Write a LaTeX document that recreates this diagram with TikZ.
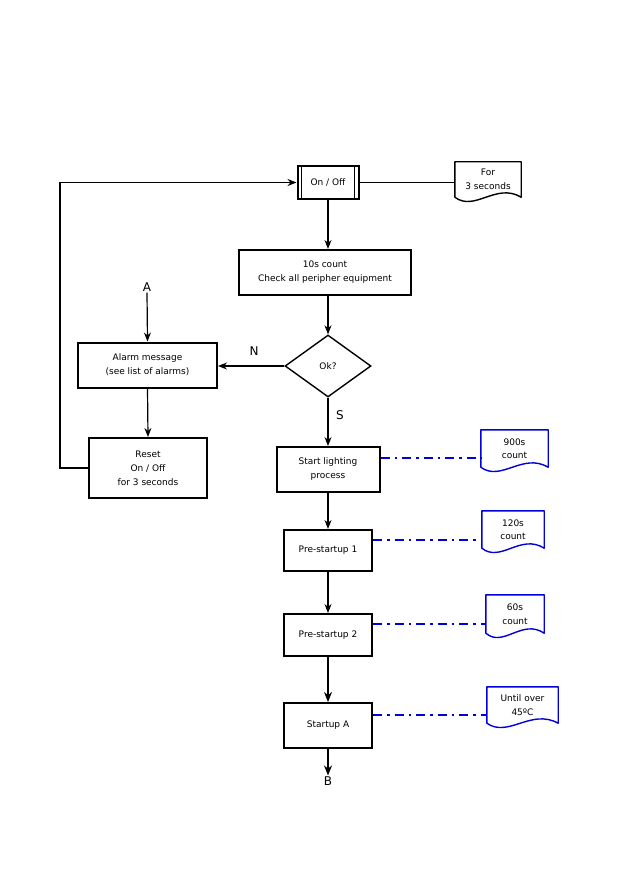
\documentclass[tikz,border=0pt]{standalone}
\usepackage{fontspec}
\setmainfont{DejaVu Sans}
\usetikzlibrary{arrows.meta,shapes.geometric,calc}
\newcommand\docshape[2]{%
  \draw[docline,#2] (#1.south west) -- (#1.north west) -- (#1.north east) -- (#1.south east)
    .. controls ($(#1.south west)!0.62!(#1.south east)+(0,-15)$) and ($(#1.south west)!0.3!(#1.south east)+(0,15)$) .. (#1.south west) -- cycle;}
\begin{document}
\begin{tikzpicture}[x=1pt,y=-1pt,
  box/.style={draw, line width=2pt, align=center, font=\fontsize{9}{14}\selectfont, inner sep=0pt},
  arr/.style={-{Stealth[length=9pt,width=7pt]}, line width=1.2pt},
  thickarr/.style={-{Stealth[length=10pt,width=8pt]}, line width=2pt},
  dd/.style={blue!85!black, line width=1.5pt, dash pattern=on 9pt off 5pt on 2.5pt off 5pt},
  docline/.style={line width=1.4pt, line join=round},
  doctext/.style={align=center, font=\fontsize{9}{13.5}\selectfont, inner sep=0pt},
  lbl/.style={font=\fontsize{12}{14}\selectfont, inner sep=1pt}
]
\useasboundingbox[fill=white] (0,0) rectangle (632,893);

% process boxes
\node[box, minimum width=61pt, minimum height=33pt] (onoff) at (328,182.5) {On / Off};
\node[box, minimum width=172pt, minimum height=45pt] (ten) at (325,272.5) {10s count\\Check all peripher equipment};
\node[draw, line width=1.4pt, diamond, minimum width=86pt, minimum height=62pt, inner sep=0pt,
      font=\fontsize{9}{10}\selectfont] (ok) at (328,366) {Ok?};
\node[box, minimum width=139pt, minimum height=45pt] (alarm) at (147.5,365) {Alarm message\\(see list of alarms)};
\node[box, minimum width=118pt, minimum height=60pt] (reset) at (148,468) {Reset\\On / Off\\for 3 seconds};
\node[box, minimum width=103pt, minimum height=45pt] (start) at (328,469.5) {Start lighting\\process};
\node[box, minimum width=88pt, minimum height=41pt] (pre1) at (328,550.5) {Pre-startup 1};
\node[box, minimum width=88pt, minimum height=42pt] (pre2) at (328,635) {Pre-startup 2};
\node[box, minimum width=88pt, minimum height=45pt] (sta) at (328,725.5) {Startup A};

% double lines of On/Off
\draw[line width=1.4pt] ($(onoff.north west)+(5,0)$) -- ($(onoff.south west)+(5,0)$);
\draw[line width=1.4pt] ($(onoff.north east)+(-5,0)$) -- ($(onoff.south east)+(-5,0)$);

% documents
\node[doctext, minimum width=66pt, minimum height=35pt] (dfor) at (488,179.5) {For\\3 seconds};
\docshape{dfor}{black}
\node[doctext, minimum width=67pt, minimum height=37pt] (d900) at (514.5,448.5) {900s\\count};
\docshape{d900}{blue!85!black}
\node[doctext, minimum width=62pt, minimum height=37pt] (d120) at (513,529.5) {120s\\count};
\docshape{d120}{blue!85!black}
\node[doctext, minimum width=58pt, minimum height=38pt] (d60) at (515,614) {60s\\count};
\docshape{d60}{blue!85!black}
\node[doctext, minimum width=71pt, minimum height=36pt] (dtemp) at (522.5,705) {Until over\\45ºC};
\docshape{dtemp}{blue!85!black}

% labels
\node[lbl] (la) at (147,287) {A};
\node[lbl] (lb) at (328,781) {B};
\node[lbl] (ln) at (254,351) {N};
\node[lbl] (ls) at (340,415) {S};

% connectors
\draw[arr] (onoff.south) -- (onoff.south |- ten.north);
\draw[arr] (ok.north |- ten.south) -- (ok.north);
\draw[arr] (ok.west) -- (ok.west -| alarm.east);
\draw[arr] (la.south) -- (alarm.north);
\draw[arr] (alarm.south) -- (reset.north);
\draw[arr, line width=1.6pt] (reset.west) -- ++(-28,0) |- (onoff.west);
\draw[line width=1.2pt] (onoff.east) -- (onoff.east -| dfor.west);
\draw[arr] (ok.south) -- (start.north);
\draw[arr] (start.south) -- (pre1.north);
\draw[arr] (pre1.south) -- (pre2.north);
\draw[thickarr] (pre2.south) -- (sta.north);
\draw[thickarr] (sta.south) -- (lb.north);

% dash-dot links
\draw[dd] ($(start.east)+(0,-11.5)$) coordinate (t1) -- (t1 -| d900.west);
\draw[dd] ($(pre1.east)+(0,-10.5)$) coordinate (t2) -- (t2 -| d120.west);
\draw[dd] ($(pre2.east)+(0,-11)$) coordinate (t3) -- (t3 -| d60.west);
\draw[dd] ($(sta.east)+(0,-10.5)$) coordinate (t4) -- (t4 -| dtemp.west);
\end{tikzpicture}
\end{document}
